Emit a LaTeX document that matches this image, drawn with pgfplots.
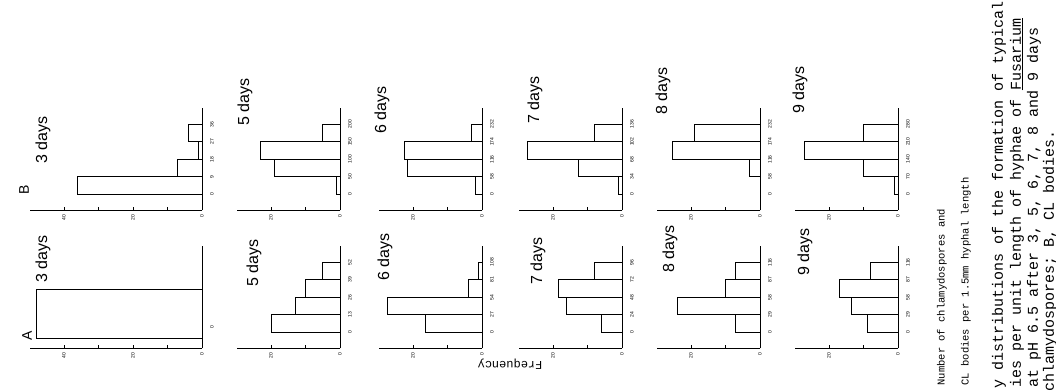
\documentclass[border=0pt]{standalone}
\usepackage{pgfplots}
\pgfplotsset{compat=1.18}
\usepackage{fontspec}
\setmainfont{Liberation Sans}
\newfontfamily\mono{Liberation Mono}

\pgfplotsset{histo/.style={
  scale only axis, height=102.4pt,
  anchor=south east,
  x dir=reverse, xmin=0, ymin=-0.9, ymax=4.95,
  axis x line*=bottom, axis y line*=middle, hide obscured x ticks=false,
  axis line style={-, line width=0.9pt, black},
  tick align=inside,
  major tick length=3pt, minor tick length=3pt,
  ytick style={draw=none},
  xtick style={black, line width=0.7pt},
  minor x tick style={black, line width=0.7pt},
  /pgf/number format/assume math mode=true,
  xticklabel style={font=\fontsize{5}{5}\selectfont, rotate=90, anchor=east, inner xsep=5pt, inner ysep=0pt},
  yticklabel style={font=\fontsize{5}{5}\selectfont, rotate=90, anchor=north, inner ysep=8pt, inner xsep=0pt},
  clip=false,
}}

% #1 baseline x, #2 axis y, #3 xmax, #4 width, #5 xtick, #6 minor xtick, #7 ytick, #8 ytick labels, #9 coordinates
\newcommand{\hist}[9]{%
\begin{axis}[histo, at={(#1pt,#2pt)}, xmax=#3, width=#4pt, xtick={#5}, minor xtick={#6}, ytick={#7}, yticklabels={#8}]
\addplot[xbar interval, fill=white, draw=black, line width=0.8pt] coordinates {#9};
\end{axis}}

\begin{document}
\begin{tikzpicture}[x=1pt,y=1pt]
\useasboundingbox (0pt,0pt) rectangle (1056pt,391pt);

% Row B (top): axis at image y 210 -> 181
\hist{202}{181}{50}{172.5}{0,20,40}{10,30}{0,1,2,3,4}{0,9,18,27,36}{(36,0) (7,1) (1,2) (4,3) (4,4)}
\hist{340}{181}{30}{103.5}{0,20}{10}{0,1,2,3,4}{0,50,100,150,200}{(1,0) (19,1) (23,2) (5,3) (5,4)}
\hist{482}{181}{30}{103.5}{0,20}{10}{0,1,2,3,4}{0,58,116,174,232}{(2,0) (21.5,1) (22.5,2) (3,3) (3,4)}
\hist{622}{181}{30}{103.5}{0,20}{10}{0,1,2,3,4}{0,34,68,102,136}{(1,0) (12.5,1) (27.5,2) (8,3) (8,4)}
\hist{760}{181}{30}{103.5}{0,20}{10}{0,1,2,3,4}{0,58,116,174,232}{(0,0) (3,1) (25.5,2) (19,3) (19,4)}
\hist{898}{181}{30}{103.5}{0,20}{10}{0,1,2,3,4}{0,70,140,210,280}{(1,0) (10,1) (27,2) (10,3) (10,4)}

% Row A (bottom): axis at image y 348 -> 43
\hist{202}{43}{50}{172.5}{0,20,40}{10,30}{0.3}{0}{(48,-0.33) (48,2.45)}
\hist{340}{43}{30}{103.5}{0,20}{10}{0,1,2,3,4}{0,13,26,39,52}{(20,0) (13,1) (10,2) (5,3) (5,4)}
\hist{482}{43}{30}{103.5}{0,20}{10}{0,1,2,3,4}{0,27,54,81,108}{(16.5,0) (27.5,1) (4,2) (1,3) (1,4)}
\hist{622}{43}{30}{103.5}{0,20}{10}{0,1,2,3,4}{0,24,48,72,96}{(6,0) (16,1) (18.5,2) (8,3) (8,4)}
\hist{760}{43}{30}{103.5}{0,20}{10}{0,1,2,3,4}{0,29,58,87,116}{(7,0) (24,1) (10,2) (7,3) (7,4)}
\hist{898}{43}{30}{103.5}{0,20}{10}{0,1,2,3,4}{0,29,58,87,116}{(9,0) (13.5,1) (17,2) (8,3) (8,4)}

% panel letters
\node[rotate=90, font=\fontsize{14}{16}\selectfont] at (27pt,55pt) {A};
\node[rotate=90, font=\fontsize{14}{16}\selectfont] at (24pt,201pt) {B};

% day labels
\begin{scope}[every node/.style={rotate=90, font=\fontsize{16}{18}\selectfont}]
\node at (43pt,251pt) {3 days};
\node at (43pt,132pt) {3 days};
\node at (245pt,289pt) {5 days};
\node at (254pt,128pt) {5 days};
\node at (382pt,281pt) {6 days};
\node at (385pt,134pt) {6 days};
\node at (535pt,291pt) {7 days};
\node at (538pt,130pt) {7 days};
\node at (663pt,300pt) {8 days};
\node at (670pt,142pt) {8 days};
\node at (800pt,301pt) {9 days};
\node at (805pt,139pt) {9 days};
\end{scope}

% common axis labels
\node[rotate=180, font=\mono\fontsize{12}{14}\selectfont] at (510pt,27pt) {Frequency};
\node[rotate=90, anchor=west, font=\mono\fontsize{10.5}{12}\selectfont] at (942pt,2pt) {Number of chlamydospores and};
\node[rotate=90, anchor=west, font=\mono\fontsize{10.5}{12}\selectfont] at (966pt,2pt) {CL bodies per 1.5mm hyphal length};

% caption (cut by the page edge)
\begin{scope}[every node/.style={rotate=90, anchor=west, font=\mono\fontsize{15}{17}\selectfont}]
\node at (999pt,-1pt) {y distributions of the formation of typical};
\node at (1017pt,0pt) {ies per unit length of hyphae of \underline{Fusarium}};
\node at (1034pt,0pt) {at pH 6.5 after 3, 5, 6, 7, 8 and 9 days};
\node at (1050pt,-4pt) {chlamydospores; B, CL bodies.};
\end{scope}
\end{tikzpicture}
\end{document}
